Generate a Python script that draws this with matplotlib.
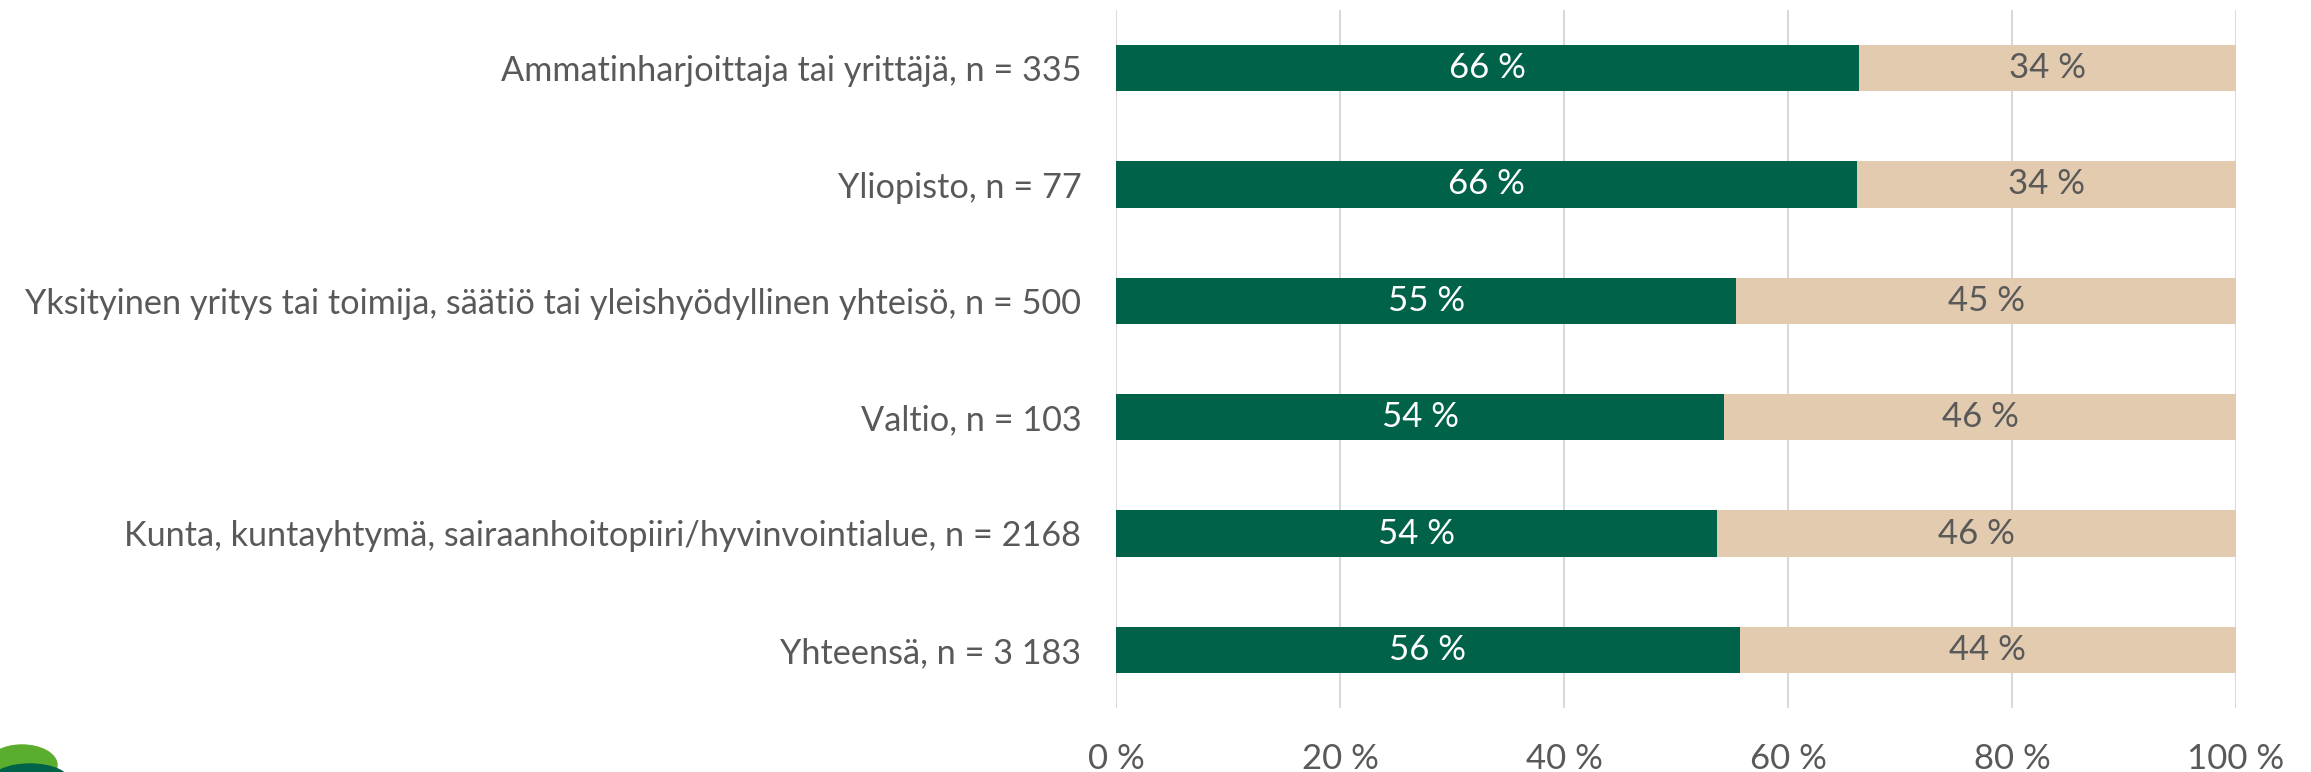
import matplotlib
matplotlib.use("Agg")
import matplotlib.pyplot as plt
from matplotlib.patches import Ellipse
import numpy as np

categories = [
    "Ammatinharjoittaja tai yrittäjä, n = 335",
    "Yliopisto, n = 77",
    "Yksityinen yritys tai toimija, säätiö tai yleishyödyllinen yhteisö, n = 500",
    "Valtio, n = 103",
    "Kunta, kuntayhtymä, sairaanhoitopiiri/hyvinvointialue, n = 2168",
    "Yhteensä, n = 3 183",
]
share_a = [66.3, 66.2, 55.4, 54.3, 53.7, 55.7]
share_b = [100 - v for v in share_a]
xticks = [0, 20, 40, 60, 80, 100]

GREEN = "#006349"
BEIGE = "#E2CBAF"
GRAY = "#595959"

plt.rcParams['font.family'] = ['Lato', 'DejaVu Sans']

W, H = 2311, 772
fig = plt.figure(figsize=(W/100, H/100), dpi=100)
ax = fig.add_axes([1116/W, 1 - 708/H, (2236-1116)/W, (708-10)/H])

y = np.arange(len(categories))[::-1]
h = 0.4
ax.barh(y, share_a, height=h, color=GREEN, zorder=3)
ax.barh(y, share_b, left=share_a, height=h, color=BEIGE, zorder=3)

for yi, a, b in zip(y, share_a, share_b):
    ax.text(a / 2, yi, f"{round(a)} %", ha="center", va="center", color="white", fontsize=25, zorder=4)
    ax.text(a + b / 2, yi, f"{round(b)} %", ha="center", va="center", color=GRAY, fontsize=25, zorder=4)

ax.set_xlim(0, 100)
ax.set_ylim(-0.5, len(categories) - 0.5)
ax.set_xticks(xticks)
ax.set_xticklabels([f"{t} %" for t in xticks], color=GRAY, fontsize=25)
ax.set_yticks(y)
ax.set_yticklabels(categories, color=GRAY, fontsize=24.7)
ax.tick_params(axis="both", length=0)
ax.tick_params(axis="x", pad=25)
ax.tick_params(axis="y", pad=25)
ax.grid(axis="x", color="#D9D9D9", linewidth=1.5, zorder=0)
for s in ax.spines.values():
    s.set_visible(False)

# partial logo at bottom-left corner (cut off by the figure edge)
fig.patches.append(Ellipse((22/W, 1 - 765/H), 70/W, 40/H, angle=0,
                           transform=fig.transFigure, color="#5BAD2E", zorder=1))
fig.patches.append(Ellipse((30/W, 1 - 782/H), 80/W, 36/H, angle=0,
                           transform=fig.transFigure, color=GREEN, zorder=2))

fig.savefig("out.png", dpi=100, facecolor="white")
